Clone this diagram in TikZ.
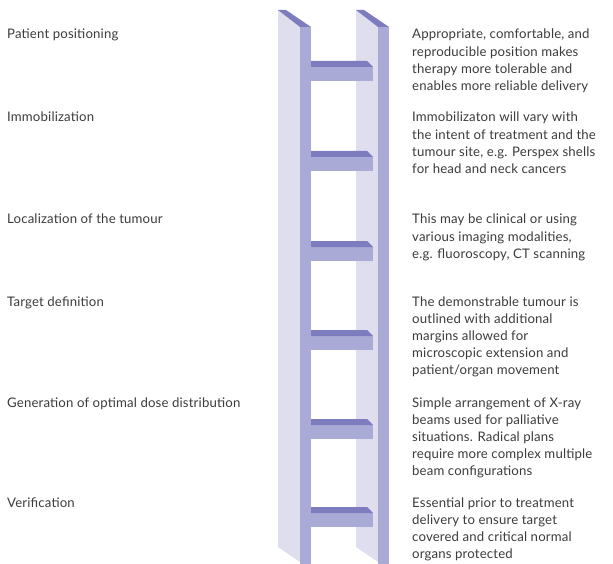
\documentclass[tikz,border=0pt]{standalone}
\usepackage{fontspec}
\setmainfont{Lato}[LetterSpace=1.2]
\definecolor{railLight}{RGB}{222,222,239}
\definecolor{railMid}{RGB}{170,170,214}
\definecolor{railDark}{RGB}{124,124,190}
\definecolor{txt}{RGB}{60,60,60}
\begin{document}
\begin{tikzpicture}[x=1pt,y=-1pt,
  stage/.style={anchor=base west,inner sep=0pt,text=txt,font=\fontsize{13.2}{17.2}\selectfont},
  note/.style={anchor=base west,inner sep=0pt,text=txt,font=\fontsize{13.2}{17.2}\selectfont}]
\useasboundingbox (0,0) rectangle (613,564);
\fill[white] (0,0) rectangle (613,564);

% rails: side face, front face and top cap
\foreach \x in {278,356}{
  \fill[railLight] (\x,10) -- (\x+22,27) -- (\x+22,562) -- (\x,547) -- cycle;
  \fill[railMid] (\x+22,27) -- (\x+33,27) -- (\x+33,564) -- (\x+22,564) -- cycle;
  \fill[railDark] (\x,10) -- (\x+8,10) -- (\x+33,27) -- (\x+22,27) -- cycle;
}

% rungs: top bevel and front face
\foreach \y in {61,151,241,330,419,507}{
  \fill[railMid] (311,\y+6) rectangle (373,\y+20);
  \fill[railDark] (311,\y) -- (367,\y) -- (373,\y+6) -- (311,\y+6) -- cycle;
}

% stage names
\node[stage] (l1) at (7,39)  {Patient positioning};
\node[stage] (l2) at (7,122) {Immobilization};
\node[stage] (l3) at (7,224) {Localization of the tumour};
\node[stage] (l4) at (7,306) {Target definition};
\node[stage] (l5) at (7,407) {Generation of optimal dose distribution};
\node[stage] (l6) at (7,507) {Verification};

% explanations
\node[note] (d1) at (412,39) {\parbox[t]{200pt}{Appropriate, comfortable, and\\reproducible position makes\\therapy more tolerable and\\enables more reliable delivery}};
\node[note] (d2) at (412,122) {\parbox[t]{200pt}{Immobilizaton will vary with\\the intent of treatment and the\\tumour site, e.g. Perspex shells\\for head and neck cancers}};
\node[note] (d3) at (412,224) {\parbox[t]{200pt}{This may be clinical or using\\various imaging modalities,\\e.g. fluoroscopy, CT scanning}};
\node[note] (d4) at (412,306) {\parbox[t]{200pt}{The demonstrable tumour is\\outlined with additional\\margins allowed for\\microscopic extension and\\patient/organ movement}};
\node[note] (d5) at (412,407) {\parbox[t]{200pt}{Simple arrangement of X-ray\\beams used for palliative\\situations. Radical plans\\require more complex multiple\\beam configurations}};
\node[note] (d6) at (412,507) {\parbox[t]{200pt}{Essential prior to treatment\\delivery to ensure target\\covered and critical normal\\organs protected}};
\end{tikzpicture}
\end{document}
